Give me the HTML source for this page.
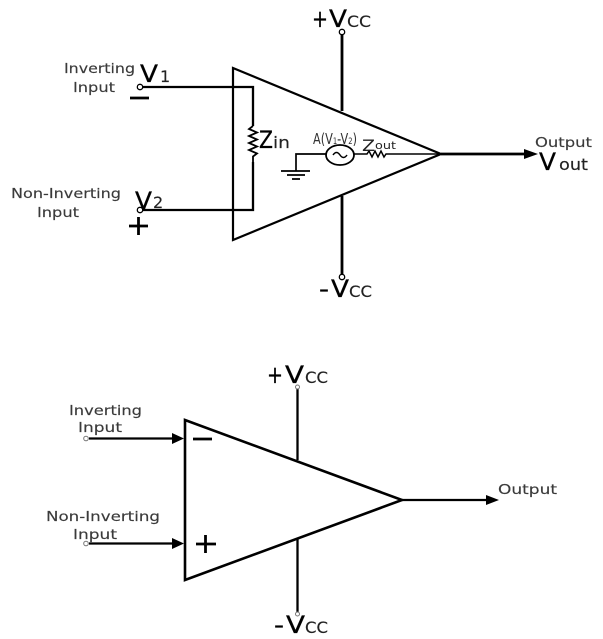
<!DOCTYPE html>
<html><head><meta charset="utf-8"><style>
html,body{margin:0;padding:0;background:#fff}
svg{display:block}
text{font-family:"DejaVu Sans","Liberation Sans",sans-serif;fill:#222}
.s{font-size:13.5px;fill:#3a3a3a;stroke:#3a3a3a;stroke-width:.15px}
.b{font-size:24px;fill:#000;stroke:#000;stroke-width:.3px}
.m{font-size:16px;fill:#222;stroke:#222;stroke-width:.15px}
</style></head><body>
<svg width="603" height="639" viewBox="0 0 603 639" xmlns="http://www.w3.org/2000/svg">
<defs><filter id="f" x="-5%" y="-5%" width="110%" height="110%"><feGaussianBlur stdDeviation="0.35"/></filter></defs>
<g filter="url(#f)">
<!-- top -->
<g fill="none" stroke="#000">
<polygon points="233,68 233,240 441,154" stroke-width="2.200"/>
<path d="M143,87H253V126M253,162V210H143" stroke-width="2.300"/>
<path d="M253,126l-4,3 8,3.500-8,3.500 8,3.500-8,3.500 8,3.500-8,3.500 8,3.500-4,3V162" stroke-width="1.800"/>
<circle cx="140" cy="87" r="2.700" stroke-width="1.300" fill="#fff"/>
<circle cx="140" cy="210" r="2.700" stroke-width="1.300" fill="#fff"/>
<path d="M342,35V111M342,196V274" stroke-width="2.800"/>
<circle cx="342" cy="32" r="2.700" stroke-width="1.300" fill="#fff"/>
<circle cx="342" cy="277" r="2.700" stroke-width="1.300" fill="#fff"/>
<path d="M326,154H296V171" stroke-width="1.700"/>
<path d="M281,171H310M287,175H305M292,179H300" stroke-width="1.800"/>
<ellipse cx="340" cy="155" rx="14" ry="10" stroke-width="1.800"/>
<path d="M333,155q3.500,-5 7,0t7,0" stroke-width="1.500"/>
<path d="M354,154H367l2,-3 3,6 3,-6 3,6 3,-6 3,6 2,-3H441" stroke-width="1.500"/>
<path d="M441,154H525" stroke-width="2.800"/>
</g>
<polygon points="524,149 538,154 524,159" fill="#000"/>
<path d="M130,98H149M129,226H148M138.500,217V235" stroke="#000" stroke-width="2.800" fill="none"/>
<text class="s" x="64" y="73" textLength="71" lengthAdjust="spacingAndGlyphs">Inverting</text>
<text class="s" x="73" y="92" textLength="42" lengthAdjust="spacingAndGlyphs">Input</text>
<text class="s" x="11" y="198" textLength="110" lengthAdjust="spacingAndGlyphs">Non-Inverting</text>
<text class="s" x="37" y="217" textLength="42" lengthAdjust="spacingAndGlyphs">Input</text>
<text class="b" x="140" y="82" textLength="18" lengthAdjust="spacingAndGlyphs">V</text>
<text class="m" x="160" y="82">1</text>
<text class="b" x="135" y="209" textLength="17" lengthAdjust="spacingAndGlyphs">V</text>
<text class="m" x="153" y="208">2</text>
<text class="b" x="259" y="148" textLength="14" lengthAdjust="spacingAndGlyphs">Z</text>
<text class="m" x="273" y="148" textLength="17" lengthAdjust="spacingAndGlyphs">in</text>
<text x="313" y="144" font-size="15" textLength="44" lengthAdjust="spacingAndGlyphs" style="fill:#333">A(V<tspan font-size="9">1</tspan>-V<tspan font-size="9">2</tspan>)</text>
<text x="362" y="151" font-size="16" textLength="13" lengthAdjust="spacingAndGlyphs">Z</text>
<text x="375" y="149" font-size="11" textLength="21" lengthAdjust="spacingAndGlyphs">out</text>
<text class="s" x="535" y="147" textLength="57" lengthAdjust="spacingAndGlyphs">Output</text>
<text class="b" x="539" y="170" textLength="17" lengthAdjust="spacingAndGlyphs">V</text>
<text class="m" x="559" y="170" textLength="29" lengthAdjust="spacingAndGlyphs">out</text>
<text class="b" x="312" y="27" textLength="16" lengthAdjust="spacingAndGlyphs">+</text>
<text class="b" x="329" y="27" textLength="18" lengthAdjust="spacingAndGlyphs">V</text>
<text class="m" x="347" y="27" textLength="24" lengthAdjust="spacingAndGlyphs">CC</text>
<text class="b" x="319" y="297" textLength="10" lengthAdjust="spacingAndGlyphs">-</text>
<text class="b" x="331" y="297" textLength="18" lengthAdjust="spacingAndGlyphs">V</text>
<text class="m" x="349" y="297" textLength="23" lengthAdjust="spacingAndGlyphs">CC</text>
<!-- bottom -->
<g fill="none" stroke="#000">
<polygon points="185,420 185,580 402,500" stroke-width="2.600"/>
<path d="M89,438.500H174M89,543.500H174" stroke-width="2.200"/>
<path d="M297.500,389V460M297.500,539V612" stroke-width="2.300"/>
<path d="M402,500H488" stroke-width="2.200"/>
<path d="M193,439H212M196,544H216M205.500,535V553" stroke-width="2.800"/>
<g stroke="#777" stroke-width="1" fill="#fff">
<circle cx="86" cy="438.500" r="2.300"/><circle cx="86" cy="543.500" r="2.300"/>
<circle cx="297.500" cy="387" r="2"/><circle cx="297.500" cy="614" r="2"/>
</g>
</g>
<polygon points="172,433 184,438.500 172,444" fill="#000"/>
<polygon points="172,538 184,543.500 172,549" fill="#000"/>
<polygon points="486,495 499,500 486,505" fill="#000"/>
<text class="s" x="69" y="415" textLength="73" lengthAdjust="spacingAndGlyphs">Inverting</text>
<text class="s" x="78" y="432" textLength="44" lengthAdjust="spacingAndGlyphs">Input</text>
<text class="s" x="46" y="521" textLength="114" lengthAdjust="spacingAndGlyphs">Non-Inverting</text>
<text class="s" x="73" y="539" textLength="44" lengthAdjust="spacingAndGlyphs">Input</text>
<text class="s" x="498" y="494" textLength="59" lengthAdjust="spacingAndGlyphs">Output</text>
<text class="b" x="267" y="383" textLength="16" lengthAdjust="spacingAndGlyphs">+</text>
<text class="b" x="285" y="383" textLength="19" lengthAdjust="spacingAndGlyphs">V</text>
<text class="m" x="305" y="383" textLength="23" lengthAdjust="spacingAndGlyphs">CC</text>
<text class="b" x="274" y="633" textLength="10" lengthAdjust="spacingAndGlyphs">-</text>
<text class="b" x="286" y="633" textLength="19" lengthAdjust="spacingAndGlyphs">V</text>
<text class="m" x="305" y="633" textLength="23" lengthAdjust="spacingAndGlyphs">CC</text>
</g>
</svg>
</body></html>
